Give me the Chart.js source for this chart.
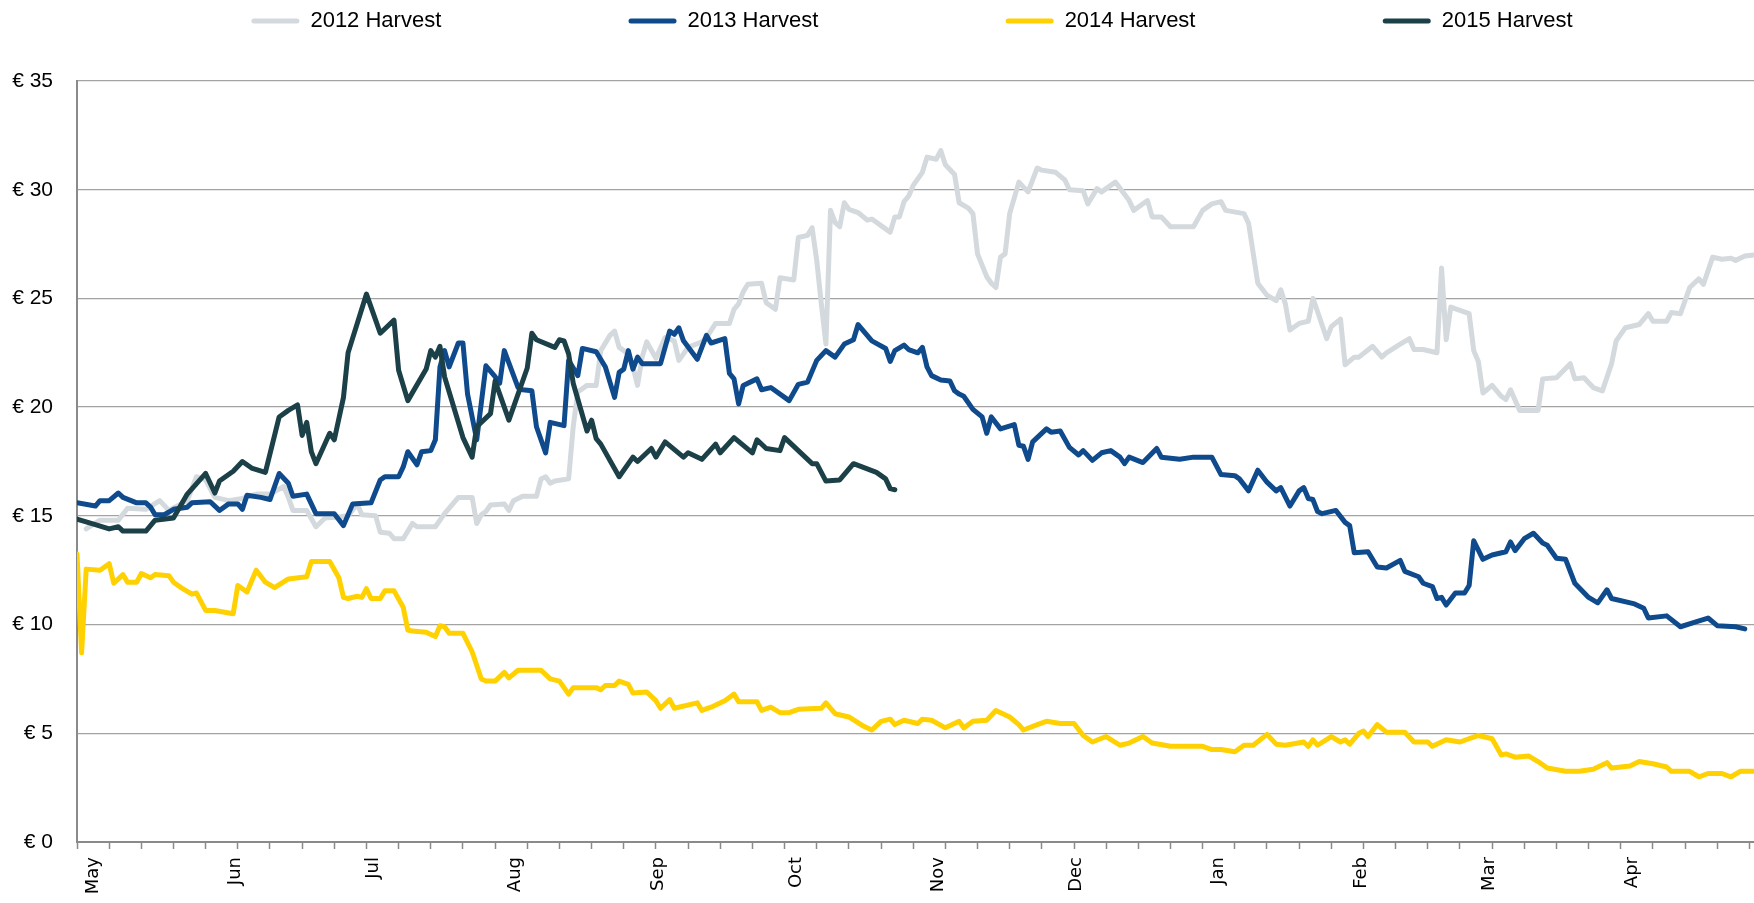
<!DOCTYPE html>
<html>
<head>
<meta charset="utf-8">
<title>Harvest prices</title>
<script src="https://cdn.jsdelivr.net/npm/chart.js@4.4.1/dist/chart.umd.min.js"></script>
<style>
  html, body { margin: 0; padding: 0; background: #fff; }
  #wrap { width: 1754px; height: 903px; }
</style>
</head>
<body>
<div id="wrap"><canvas id="priceChart" width="1754" height="903"></canvas></div>
<script>
// series names + colours
const seriesNames = ['2012 Harvest', '2013 Harvest', '2014 Harvest', '2015 Harvest'];
const seriesColors = ['#d4d9dd', '#0e4a8c', '#ffd100', '#1b4048'];

// x axis: days since 1 May, labels at the start of each month
const monthNames = ['May', 'Jun', 'Jul', 'Aug', 'Sep', 'Oct', 'Nov', 'Dec', 'Jan', 'Feb', 'Mar', 'Apr'];
const monthStartDays = [0, 31, 61, 92, 123, 153, 184, 214, 245, 276, 304, 335];
const yTicks = [0, 5, 10, 15, 20, 25, 30, 35];

// [day, price in €]
const harvest2012 = [
  [2, 14.4], [5, 14.8], [9, 14.8], [11, 15.35], [15, 15.3], [18, 15.7], [20, 15.25], [24, 15.7],
  [26, 16.8], [28, 16.65], [30, 15.85], [33, 15.7], [36, 15.8], [39, 16.0], [42, 16.0], [45, 16.35],
  [46, 15.85], [47, 15.25], [50, 15.25], [52, 14.5], [54, 14.9], [57, 14.95], [59, 15.0], [61, 15.55],
  [62, 15.05], [65, 15.0], [66, 14.25], [68, 14.2], [69, 13.95], [71, 13.95], [73, 14.65], [74, 14.5],
  [78, 14.5], [80, 15.1], [83, 15.85], [86, 15.85], [87, 14.65], [88, 15.05], [89, 15.2], [90, 15.5],
  [93, 15.55], [94, 15.25], [95, 15.7], [97, 15.9], [100, 15.9], [101, 16.7], [102, 16.8], [103, 16.5],
  [104, 16.6], [107, 16.7], [108, 19.1], [109, 20.7], [111, 21.0], [113, 21.0], [114, 22.6], [116, 23.3],
  [117, 23.5], [118, 22.75], [120, 22.45], [121, 21.85], [122, 21.0], [123, 22.3], [124, 23.0], [126, 22.25],
  [128, 23.2], [130, 23.05], [131, 22.15], [133, 22.75], [136, 23.0], [137, 23.2], [139, 23.85], [142, 23.85],
  [143, 24.5], [144, 24.75], [145, 25.3], [146, 25.65], [149, 25.7], [150, 24.8], [152, 24.5], [153, 25.95],
  [156, 25.85], [157, 27.8], [159, 27.9], [160, 28.25], [161, 26.75], [162, 24.75], [163, 22.9], [164, 29.05],
  [165, 28.5], [166, 28.3], [167, 29.4], [168, 29.1], [170, 28.95], [172, 28.6], [173, 28.65], [175, 28.35],
  [177, 28.05], [178, 28.75], [179, 28.75], [180, 29.45], [181, 29.7], [182, 30.2], [184, 30.8], [185, 31.5],
  [187, 31.4], [188, 31.8], [189, 31.15], [191, 30.7], [192, 29.4], [194, 29.15], [195, 28.9], [196, 27.05],
  [198, 26.0], [199, 25.7], [200, 25.5], [201, 26.9], [202, 27.05], [203, 28.9], [205, 30.35], [207, 29.9],
  [209, 31.0], [210, 30.9], [213, 30.8], [215, 30.45], [216, 30.0], [219, 29.95], [220, 29.35], [222, 30.05],
  [223, 29.9], [225, 30.2], [226, 30.35], [229, 29.5], [230, 29.05], [233, 29.5], [234, 28.75], [236, 28.75],
  [238, 28.3], [243, 28.3], [245, 29.05], [247, 29.35], [249, 29.45], [250, 29.05], [254, 28.9], [255, 28.45],
  [257, 25.7], [259, 25.15], [261, 24.9], [262, 25.4], [263, 24.75], [264, 23.55], [266, 23.85], [268, 23.95],
  [269, 25.0], [270, 24.4], [272, 23.15], [273, 23.7], [275, 24.05], [276, 21.95], [278, 22.3], [279, 22.3],
  [282, 22.8], [284, 22.3], [285, 22.5], [288, 22.9], [290, 23.15], [291, 22.65], [293, 22.65], [296, 22.5],
  [297, 26.4], [298, 23.1], [299, 24.6], [303, 24.3], [304, 22.6], [305, 22.1], [306, 20.65], [308, 21.0],
  [310, 20.5], [311, 20.35], [312, 20.8], [314, 19.85], [318, 19.85], [319, 21.3], [322, 21.35], [325, 22.0],
  [326, 21.3], [328, 21.35], [330, 20.9], [332, 20.75], [334, 22.0], [335, 23.05], [337, 23.65], [340, 23.8],
  [342, 24.3], [343, 23.95], [346, 23.95], [347, 24.35], [349, 24.3], [351, 25.5], [353, 25.9], [354, 25.65],
  [356, 26.9], [358, 26.8], [360, 26.85], [361, 26.75], [363, 26.95], [365, 27.0]
];

const harvest2013 = [
  [0, 15.6], [4, 15.45], [5, 15.7], [7, 15.7], [9, 16.05], [10, 15.85], [13, 15.6], [15, 15.6],
  [16, 15.4], [17, 15.05], [19, 15.05], [21, 15.3], [24, 15.4], [25, 15.6], [29, 15.65], [31, 15.25],
  [33, 15.55], [35, 15.55], [36, 15.3], [37, 15.95], [40, 15.85], [42, 15.75], [44, 16.95], [46, 16.5],
  [47, 15.9], [50, 16.0], [52, 15.1], [56, 15.1], [58, 14.55], [60, 15.55], [64, 15.6], [66, 16.65],
  [67, 16.8], [70, 16.8], [71, 17.25], [72, 17.95], [74, 17.35], [75, 17.95], [77, 18.0], [78, 18.5],
  [79, 21.85], [80, 22.6], [81, 21.85], [83, 22.95], [84, 22.95], [85, 20.6], [87, 18.5], [89, 21.9],
  [91, 21.4], [92, 21.1], [93, 22.6], [96, 20.9], [97, 20.8], [99, 20.75], [100, 19.1], [102, 17.9],
  [103, 19.3], [106, 19.15], [107, 22.15], [109, 21.45], [110, 22.7], [113, 22.55], [115, 21.85], [117, 20.45],
  [118, 21.6], [119, 21.75], [120, 22.6], [121, 21.75], [122, 22.3], [123, 22.0], [127, 22.0], [129, 23.5],
  [130, 23.35], [131, 23.65], [132, 23.05], [135, 22.2], [137, 23.3], [138, 22.95], [141, 23.15], [142, 21.55],
  [143, 21.3], [144, 20.15], [145, 21.0], [148, 21.3], [149, 20.8], [151, 20.9], [155, 20.3], [157, 21.05],
  [159, 21.15], [161, 22.15], [163, 22.6], [165, 22.3], [167, 22.9], [169, 23.1], [170, 23.8], [173, 23.05],
  [176, 22.7], [177, 22.1], [178, 22.6], [180, 22.85], [181, 22.65], [183, 22.5], [184, 22.75], [185, 21.85],
  [186, 21.45], [188, 21.25], [190, 21.2], [191, 20.75], [192, 20.6], [193, 20.5], [195, 19.9], [197, 19.55],
  [198, 18.8], [199, 19.55], [201, 19.0], [204, 19.2], [205, 18.25], [206, 18.2], [207, 17.6], [208, 18.4],
  [211, 19.0], [212, 18.85], [214, 18.9], [216, 18.15], [218, 17.8], [219, 18.0], [221, 17.55], [223, 17.9],
  [225, 18.0], [227, 17.7], [228, 17.4], [229, 17.7], [232, 17.45], [235, 18.1], [236, 17.7], [240, 17.6],
  [243, 17.7], [247, 17.7], [249, 16.9], [252, 16.85], [253, 16.7], [255, 16.15], [257, 17.1], [259, 16.55],
  [261, 16.15], [262, 16.3], [264, 15.45], [266, 16.15], [267, 16.3], [268, 15.8], [269, 15.75], [270, 15.2],
  [271, 15.1], [274, 15.25], [276, 14.7], [277, 14.55], [278, 13.3], [281, 13.35], [283, 12.65], [285, 12.6],
  [288, 12.95], [289, 12.45], [292, 12.2], [293, 11.9], [295, 11.75], [296, 11.2], [297, 11.25], [298, 10.9],
  [300, 11.45], [302, 11.45], [303, 11.8], [304, 13.85], [306, 13.0], [308, 13.2], [311, 13.35], [312, 13.8],
  [313, 13.4], [315, 13.95], [317, 14.2], [319, 13.75], [320, 13.65], [322, 13.05], [324, 13.0], [326, 11.9],
  [329, 11.25], [331, 11.0], [333, 11.6], [334, 11.2], [339, 10.95], [341, 10.75], [342, 10.3], [346, 10.4],
  [349, 9.9], [352, 10.1], [355, 10.3], [357, 9.95], [361, 9.9], [363, 9.8]
];

const harvest2014 = [
  [0, 13.25], [1, 8.7], [2, 12.55], [5, 12.5], [7, 12.8], [8, 11.9], [10, 12.3], [11, 11.95],
  [13, 11.95], [14, 12.35], [16, 12.15], [17, 12.3], [20, 12.25], [21, 11.95], [23, 11.65], [25, 11.4],
  [26, 11.45], [28, 10.65], [30, 10.65], [34, 10.5], [35, 11.8], [37, 11.5], [39, 12.5], [41, 11.95],
  [43, 11.7], [46, 12.1], [50, 12.2], [51, 12.9], [55, 12.9], [57, 12.15], [58, 11.25], [59, 11.2],
  [61, 11.3], [62, 11.25], [63, 11.65], [64, 11.2], [66, 11.2], [67, 11.55], [69, 11.55], [71, 10.8],
  [72, 9.75], [73, 9.7], [76, 9.65], [78, 9.45], [79, 9.95], [80, 9.9], [81, 9.6], [84, 9.6],
  [86, 8.75], [88, 7.5], [89, 7.4], [91, 7.4], [93, 7.8], [94, 7.55], [96, 7.9], [101, 7.9],
  [103, 7.5], [105, 7.4], [107, 6.8], [108, 7.1], [113, 7.1], [114, 7.0], [115, 7.2], [117, 7.2],
  [118, 7.4], [120, 7.25], [121, 6.85], [124, 6.9], [126, 6.5], [127, 6.15], [129, 6.55], [130, 6.15],
  [135, 6.4], [136, 6.05], [138, 6.2], [141, 6.5], [143, 6.8], [144, 6.45], [148, 6.45], [149, 6.05],
  [151, 6.2], [153, 5.95], [155, 5.95], [157, 6.1], [162, 6.15], [163, 6.4], [165, 5.9], [168, 5.75],
  [171, 5.35], [173, 5.15], [175, 5.55], [177, 5.65], [178, 5.4], [180, 5.6], [183, 5.45], [184, 5.65],
  [186, 5.6], [189, 5.25], [192, 5.55], [193, 5.25], [195, 5.55], [198, 5.6], [200, 6.05], [203, 5.75],
  [205, 5.4], [206, 5.15], [209, 5.4], [211, 5.55], [214, 5.45], [217, 5.45], [219, 4.9], [221, 4.6],
  [224, 4.85], [227, 4.45], [229, 4.55], [232, 4.85], [234, 4.55], [238, 4.4], [245, 4.4], [247, 4.25],
  [249, 4.25], [252, 4.15], [254, 4.45], [256, 4.45], [259, 4.95], [261, 4.5], [263, 4.45], [267, 4.6],
  [268, 4.4], [269, 4.7], [270, 4.45], [273, 4.85], [275, 4.6], [276, 4.7], [277, 4.5], [279, 5.0],
  [280, 5.1], [281, 4.85], [283, 5.4], [285, 5.05], [289, 5.05], [291, 4.6], [294, 4.6], [295, 4.4],
  [298, 4.7], [301, 4.6], [305, 4.9], [308, 4.75], [310, 4.0], [311, 4.05], [313, 3.9], [316, 3.95],
  [318, 3.7], [320, 3.4], [324, 3.25], [327, 3.25], [330, 3.35], [333, 3.65], [334, 3.4], [338, 3.5],
  [340, 3.7], [343, 3.6], [346, 3.45], [347, 3.25], [351, 3.25], [353, 3.0], [355, 3.15], [358, 3.15],
  [360, 3.0], [362, 3.25], [365, 3.25]
];

const harvest2015 = [
  [0, 14.85], [4, 14.6], [7, 14.4], [9, 14.5], [10, 14.3], [15, 14.3], [17, 14.8], [21, 14.9],
  [24, 16.0], [28, 16.95], [30, 16.05], [31, 16.6], [34, 17.05], [36, 17.5], [38, 17.2], [41, 17.0],
  [44, 19.55], [46, 19.85], [48, 20.1], [49, 18.7], [50, 19.3], [51, 17.95], [52, 17.4], [55, 18.8],
  [56, 18.5], [58, 20.45], [59, 22.5], [63, 25.2], [65, 24.0], [66, 23.4], [69, 24.0], [70, 21.7],
  [72, 20.3], [76, 21.75], [77, 22.6], [78, 22.3], [79, 22.8], [80, 21.4], [84, 18.6], [86, 17.7],
  [87, 19.1], [90, 19.7], [91, 21.2], [94, 19.4], [98, 21.8], [99, 23.4], [100, 23.1], [104, 22.75],
  [105, 23.1], [106, 23.05], [107, 22.45], [108, 21.1], [111, 18.9], [112, 19.4], [113, 18.55], [114, 18.3],
  [118, 16.8], [121, 17.7], [122, 17.5], [125, 18.1], [126, 17.7], [128, 18.4], [132, 17.7], [133, 17.9],
  [136, 17.6], [139, 18.3], [140, 17.9], [143, 18.6], [147, 17.9], [148, 18.5], [150, 18.1], [153, 18.0],
  [154, 18.6], [160, 17.4], [161, 17.4], [163, 16.6], [166, 16.65], [169, 17.4], [174, 17.0], [176, 16.7],
  [177, 16.25], [178, 16.2]
];

const seriesData = [harvest2012, harvest2013, harvest2014, harvest2015];

const monthLabelAt = new Map(monthStartDays.map((d, i) => [d, monthNames[i]]));

// weekly tick marks plus the month-start ticks that carry the labels
function buildXTicks() {
  const values = new Set(monthStartDays);
  for (let d = 0; d <= 364; d += 7) values.add(d);
  return Array.from(values).sort((a, b) => a - b).map(v => ({ value: v }));
}

const legendFont = { family: 'Liberation Sans', size: 22 };
const yLabelFont = { family: 'Liberation Sans', size: 21 };
const measureCtx = document.createElement('canvas').getContext('2d');

// legend spacing: pad labels so items sit ~376px apart like the original
function padLabel(text, target) {
  measureCtx.font = legendFont.size + 'px ' + legendFont.family;
  let t = text;
  while (measureCtx.measureText(t).width < target) t += ' ';
  return t;
}

// y labels are mirrored (so they aren't clipped) and pushed back left of the axis
measureCtx.font = yLabelFont.size + 'px ' + yLabelFont.family;
const widestYLabel = Math.max(...yTicks.map(v => measureCtx.measureText('€ ' + v).width));

const datasets = seriesNames.map((name, i) => ({
  label: name,
  data: seriesData[i].map(([d, v]) => ({ x: d, y: v })),
  borderColor: seriesColors[i],
  backgroundColor: seriesColors[i],
  borderWidth: 5,
  pointRadius: 0,
  tension: 0,
  fill: false,
  borderJoinStyle: 'round',
  borderCapStyle: 'round',
  order: seriesNames.length - i
}));

new Chart(document.getElementById('priceChart'), {
  type: 'line',
  data: { datasets: datasets },
  options: {
    responsive: false,
    animation: false,
    devicePixelRatio: 1,
    layout: { padding: { left: 70, right: 0, top: 0, bottom: 0 } },
    plugins: {
      legend: {
        position: 'top',
        labels: {
          boxWidth: 48,
          boxHeight: 5,
          padding: 10,
          color: '#000',
          font: legendFont,
          generateLabels: chart => {
            const items = Chart.defaults.plugins.legend.labels.generateLabels(chart)
              .sort((a, b) => a.datasetIndex - b.datasetIndex);
            return items.map((item, i) => Object.assign({}, item, {
              text: i < items.length - 1 ? padLabel(seriesNames[item.datasetIndex], 307) : seriesNames[item.datasetIndex],
              fillStyle: seriesColors[item.datasetIndex],
              lineWidth: 0,
              borderRadius: 2.5
            }));
          }
        }
      },
      // empty spacer between legend and plot
      title: { display: true, text: '', weight: 500, padding: { top: 0, bottom: 37.8 }, font: { size: 1 } },
      tooltip: { enabled: false }
    },
    scales: {
      x: {
        type: 'linear',
        min: 0,
        max: 365,
        afterBuildTicks: scale => { scale.ticks = buildXTicks(); },
        afterFit: scale => {
          scale.height = 61;
          scale.paddingLeft = 0;
          scale.paddingRight = 0;
        },
        ticks: {
          autoSkip: false,
          minRotation: 90,
          maxRotation: 90,
          labelOffset: 16,
          padding: 8,
          color: '#000',
          font: { family: 'DejaVu Sans', size: 18 },
          callback: v => monthLabelAt.has(v) ? monthLabelAt.get(v) : ''
        },
        grid: {
          drawOnChartArea: false,
          drawTicks: true,
          tickLength: 7,
          tickWidth: 1.5,
          tickColor: ctx => (ctx.tick && ctx.tick.value % 7 !== 0) ? 'rgba(0,0,0,0)' : '#8a8a8a'
        },
        border: { color: '#8a8a8a', width: 2 }
      },
      y: {
        min: 0,
        max: 35,
        afterBuildTicks: scale => { scale.ticks = yTicks.map(v => ({ value: v })); },
        afterFit: scale => { scale.width = 7; },
        ticks: {
          mirror: true,
          crossAlign: 'far',
          padding: -24 - widestYLabel,
          color: '#000',
          font: yLabelFont,
          callback: v => '€ ' + v
        },
        grid: { color: '#a3a3a3', lineWidth: 1.3, drawTicks: false },
        border: { color: '#8a8a8a', width: 2 }
      }
    }
  }
});
</script>
</body>
</html>
